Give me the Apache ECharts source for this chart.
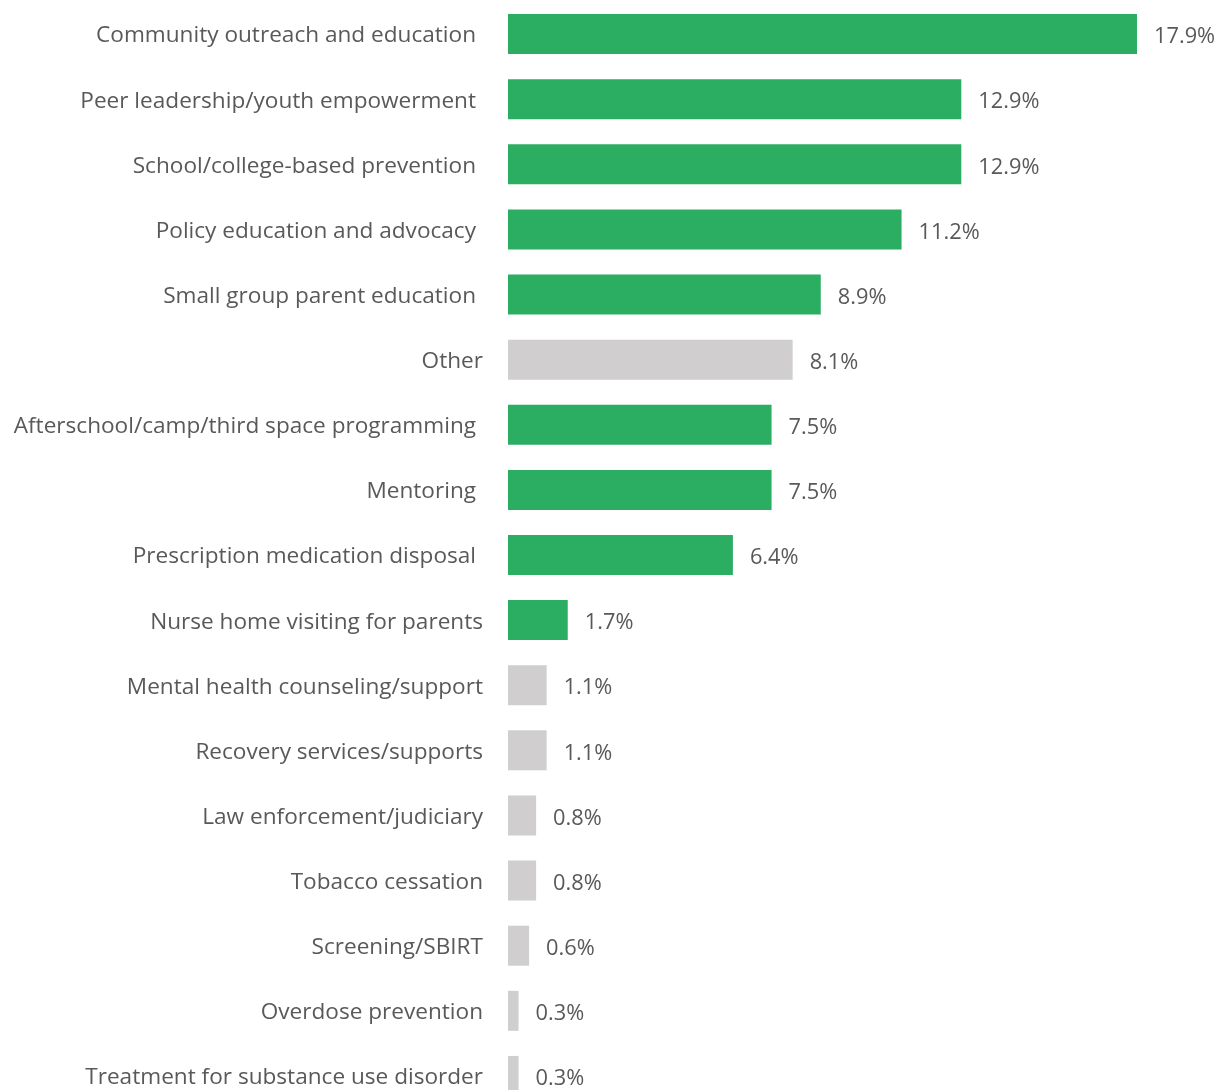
<!DOCTYPE html>
<html>
<head>
<meta charset="utf-8">
<script src="https://cdn.jsdelivr.net/npm/echarts@6/dist/echarts.min.js"></script>
<style>
  html, body { margin: 0; padding: 0; background: #ffffff; }
  #chart { width: 1218px; height: 1090px; }
</style>
</head>
<body>
<div id="chart"></div>
<script>
// Prevention strategies, share of funded activities (%)
const categories = [
  'Community outreach and education',
  'Peer leadership/youth empowerment',
  'School/college-based prevention',
  'Policy education and advocacy',
  'Small group parent education',
  'Other',
  'Afterschool/camp/third space programming',
  'Mentoring',
  'Prescription medication disposal',
  'Nurse home visiting for parents',
  'Mental health counseling/support',
  'Recovery services/supports',
  'Law enforcement/judiciary',
  'Tobacco cessation',
  'Screening/SBIRT',
  'Overdose prevention',
  'Treatment for substance use disorder'
];
const values = [17.9, 12.9, 12.9, 11.2, 8.9, 8.1, 7.5, 7.5, 6.4, 1.7, 1.1, 1.1, 0.8, 0.8, 0.6, 0.3, 0.3];
// Strategies shown in the highlight colour; the rest are drawn in grey
const highlighted = [
  'Community outreach and education',
  'Peer leadership/youth empowerment',
  'School/college-based prevention',
  'Policy education and advocacy',
  'Small group parent education',
  'Afterschool/camp/third space programming',
  'Mentoring',
  'Prescription medication disposal',
  'Nurse home visiting for parents'
];
// Labels that sit a little further from the axis line
const insetLabels = [
  'Community outreach and education',
  'Peer leadership/youth empowerment',
  'School/college-based prevention',
  'Policy education and advocacy',
  'Small group parent education',
  'Afterschool/camp/third space programming',
  'Mentoring',
  'Prescription medication disposal'
];

const GREEN = '#2BAD62';
const GREY = '#D0CECE';
const TEXT = '#595959';
const FONT = '"Open Sans", "Noto Sans", sans-serif';

const chart = echarts.init(document.getElementById('chart'), null, { renderer: 'canvas' });

chart.setOption({
  animation: false,
  // the last row runs slightly past the bottom edge of the canvas
  grid: {
    left: 508, right: 81, top: 1.5, height: 1107,
    containLabel: false,
    outerBoundsMode: 'none'
  },
  xAxis: {
    type: 'value',
    min: 0,
    max: 17.9,
    show: false
  },
  yAxis: {
    type: 'category',
    inverse: true,
    data: categories,
    axisLine: { show: false },
    axisTick: { show: false },
    axisLabel: {
      margin: 25,
      color: TEXT,
      fontFamily: FONT,
      fontSize: 22.6,
      formatter: c => (insetLabels.includes(c) ? '{i|' : '{n|') + c + '}',
      rich: {
        i: { padding: [4, 7, 0, 0], color: TEXT, fontFamily: FONT, fontSize: 22.6 },
        n: { padding: [4, 0, 0, 0], color: TEXT, fontFamily: FONT, fontSize: 22.6 }
      }
    }
  },
  series: [{
    type: 'bar',
    barWidth: 40,
    data: values.map((v, i) => ({
      value: v,
      itemStyle: { color: highlighted.includes(categories[i]) ? GREEN : GREY }
    })),
    label: {
      show: true,
      position: 'right',
      distance: 17,
      color: TEXT,
      fontFamily: FONT,
      fontSize: 21.8,
      offset: [0, 3],
      formatter: p => p.value.toFixed(1) + '%'
    }
  }]
});
</script>
</body>
</html>
